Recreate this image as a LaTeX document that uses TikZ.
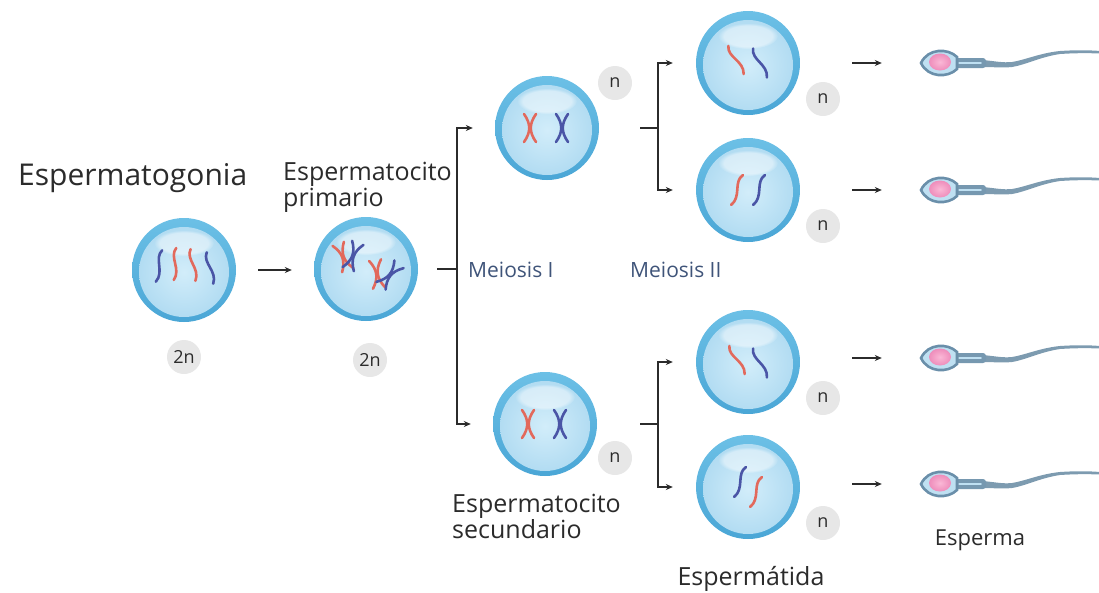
\documentclass[tikz,border=0pt]{standalone}
\usepackage{fontspec}
\setmainfont{Open Sans}
\usetikzlibrary{arrows.meta,fadings}

\definecolor{ringtop}{HTML}{6CC0E6}
\definecolor{ringbot}{HTML}{4AA6D6}
\definecolor{cellin}{HTML}{D2EDFA}
\definecolor{cellout}{HTML}{B2DCF2}
\definecolor{chrred}{HTML}{E2695C}
\definecolor{chrblue}{HTML}{4A55A6}
\definecolor{badge}{HTML}{E7E7E7}
\definecolor{ink}{HTML}{2B2B2B}
\definecolor{meio}{HTML}{3F5479}
\definecolor{spline}{HTML}{6A8FAA}
\definecolor{sphead}{HTML}{BFE0F2}
\definecolor{spnucin}{HTML}{FAB8D6}
\definecolor{spnucout}{HTML}{EE8DBB}
\definecolor{spmid}{HTML}{7698B0}
\definecolor{sptail}{HTML}{7D9BB0}

\tikzset{
  cellbody/.pic={
    \shade[top color=ringtop, bottom color=ringbot] (0,0) circle (52);
    \shade[inner color=cellin, outer color=cellout] (0,2) circle (45);
    \fill[white, opacity=0.45, path fading=circle with fuzzy edge 20 percent] (0,-27) ellipse (30 and 13);
  },
  % chromosome with two sister chromatids
  xchr/.pic={
    \draw (-6,-14) .. controls (1,-4) and (1,4) .. (-6,14);
    \draw (6,-14) .. controls (-1,-4) and (-1,4) .. (6,14);
  },
  % single wavy chromatid
  wchr/.pic={
    \draw (-1,-16) .. controls (-7,-6) and (7,4) .. (1,16);
  },
  redc/.style={color=chrred, line width=2.6pt, line cap=round},
  bluec/.style={color=chrblue, line width=2.6pt, line cap=round},
  cellnode/.style={circle, minimum size=104pt, inner sep=0pt},
  ploidy/.style={circle, fill=badge, minimum size=34pt, inner sep=0pt,
    text=ink, font=\fontsize{18}{18}\selectfont},
  lbl/.style={text=ink, inner sep=0pt, font=\fontsize{25}{28}\selectfont},
  meiolbl/.style={text=meio, inner sep=0pt, font=\fontsize{21}{23}\selectfont},
  conn/.style={draw=ink, line width=1.5pt},
  arr/.style={conn, -{Stealth[length=7pt,width=6pt]}},
  sperm/.pic={
    % tapering tail
    \fill[sptail] (42,-3) .. controls (55,-2) and (62,0) .. (72,-1)
      .. controls (85,-3) and (100,-10) .. (120,-12)
      .. controls (135,-13) and (148,-13) .. (160,-12)
      -- (160,-9.5) .. controls (148,-10) and (135,-10) .. (120,-9)
      .. controls (100,-6) and (85,2) .. (72,4)
      .. controls (62,5) and (55,4) .. (42,4) -- cycle;
    % midpiece
    \fill[spmid, rounded corners=3pt] (14,-5) rectangle (46,5);
    \draw[sphead, line width=1.8pt, line cap=round] (19,0) -- (41,0);
    % head
    \filldraw[fill=sphead, draw=spline, line width=2.6pt]
      (-19,0) .. controls (-12,-15) and (8,-15) .. (17,-6) -- (17,6)
      .. controls (8,15) and (-12,15) .. (-19,0) -- cycle;
    \shade[inner color=spnucin, outer color=spnucout] (0,-1) ellipse (11 and 8.5);
  },
}

\begin{document}
\begin{tikzpicture}[x=1pt,y=-1pt]
\useasboundingbox (0,0) rectangle (1099,592);

% ---------- spermatogonium ----------
\pic at (184,270) {cellbody};
\node[cellnode] (g) at (184,270) {};
\pic[bluec, rotate=-15] at (159,266) {wchr};
\pic[redc, rotate=-8] at (175,264) {wchr};
\pic[redc, rotate=5] at (193,265) {wchr};
\pic[bluec, rotate=8] at (210,268) {wchr};
\node[ploidy] (g2n) at (184,357) {2n};
\node[lbl, anchor=base west, font=\fontsize{30}{33}\selectfont] (lg) at (18,185) {Espermatogonia};

% ---------- primary spermatocyte (paired homologues) ----------
\pic at (366,269) {cellbody};
\node[cellnode] (p) at (366,269) {};
\pic[redc, rotate=20] at (343,257) {xchr};
\pic[bluec, rotate=-20] at (353,256) {xchr};
\pic[redc, rotate=8] at (377,274) {xchr};
\pic[bluec, rotate=-40] at (390,275) {xchr};
\node[ploidy] (p2n) at (370,360) {2n};
\node[lbl, anchor=base west] (lp1) at (283,180) {Espermatocito};
\node[lbl, anchor=base west] (lp2) at (283,206) {primario};

\draw[arr, shorten <=22pt, shorten >=22pt] (g.east) -- (g.east -| p.west);

% ---------- secondary spermatocytes ----------
\pic at (547,128) {cellbody};
\node[cellnode] (s1) at (547,128) {};
\pic[redc] at (530,128) {xchr};
\pic[bluec] at (562,128) {xchr};
\node[ploidy] (s1n) at (615,83) {n};

\pic at (545,424) {cellbody};
\node[cellnode] (s2) at (545,424) {};
\pic[redc] at (528,424) {xchr};
\pic[bluec] at (560,424) {xchr};
\node[ploidy] (s2n) at (615,458) {n};
\node[lbl, anchor=base west] (ls1) at (452,512) {Espermatocito};
\node[lbl, anchor=base west] (ls2) at (452,538) {secundario};

% meiosis I bracket
\coordinate (m1) at (457,269);
\draw[conn] ([xshift=19pt]p.east) -- (m1);
\draw[arr] (m1) |- ([xshift=-22pt]s1.west);
\draw[arr] (m1) |- ([xshift=-22pt]s2.west);
\node[meiolbl, anchor=base west] (lm1) at (468,277) {Meiosis I};
\node[meiolbl, anchor=base west] (lm2) at (630,277) {Meiosis II};

% ---------- spermatids ----------
\foreach \name/\yy in {t1/63, t2/190, t3/362, t4/487} {
  \pic at (748,\yy) {cellbody};
  \node[cellnode] (\name) at (748,\yy) {};
  \node[ploidy] (\name n) at (823,\yy+36) {n};
}
\pic[redc, rotate=25] at (736,60) {wchr};
\pic[bluec, rotate=22] at (760,63) {wchr};
\pic[redc, rotate=-25] at (737,190) {wchr};
\pic[bluec, rotate=-25] at (759,190) {wchr};
\pic[redc, rotate=25] at (737,360) {wchr};
\pic[bluec, rotate=22] at (760,363) {wchr};
\pic[bluec, rotate=-25] at (740,482) {wchr};
\pic[redc, rotate=-25] at (756,492) {wchr};
\node[lbl, anchor=base] (lt) at (751,585) {Espermátida};

% meiosis II brackets
\coordinate (m2a) at (658,128);
\coordinate (m2b) at (658,424);
\draw[conn] ([xshift=41pt]s1.east) -- (m2a);
\draw[arr] (m2a) |- ([xshift=-23pt]t1.west);
\draw[arr] (m2a) |- ([xshift=-23pt]t2.west);
\draw[conn] ([xshift=43pt]s2.east) -- (m2b);
\draw[arr] (m2b) |- ([xshift=-23pt]t3.west);
\draw[arr] (m2b) |- ([xshift=-23pt]t4.west);

% ---------- sperm ----------
\foreach \name/\src/\yy in {z1/t1/63, z2/t2/190, z3/t3/358, z4/t4/484} {
  \pic at (940,\yy) {sperm};
  \node[minimum width=40pt, minimum height=24pt, inner sep=0pt] (\name) at (940,\yy) {};
  \draw[arr] ([xshift=52pt]\src.east |- \name.west) -- ([xshift=-38pt]\name.west);
}
\node[lbl, anchor=base, font=\fontsize{22}{24}\selectfont] (lz) at (980,545) {Esperma};

\end{tikzpicture}
\end{document}
